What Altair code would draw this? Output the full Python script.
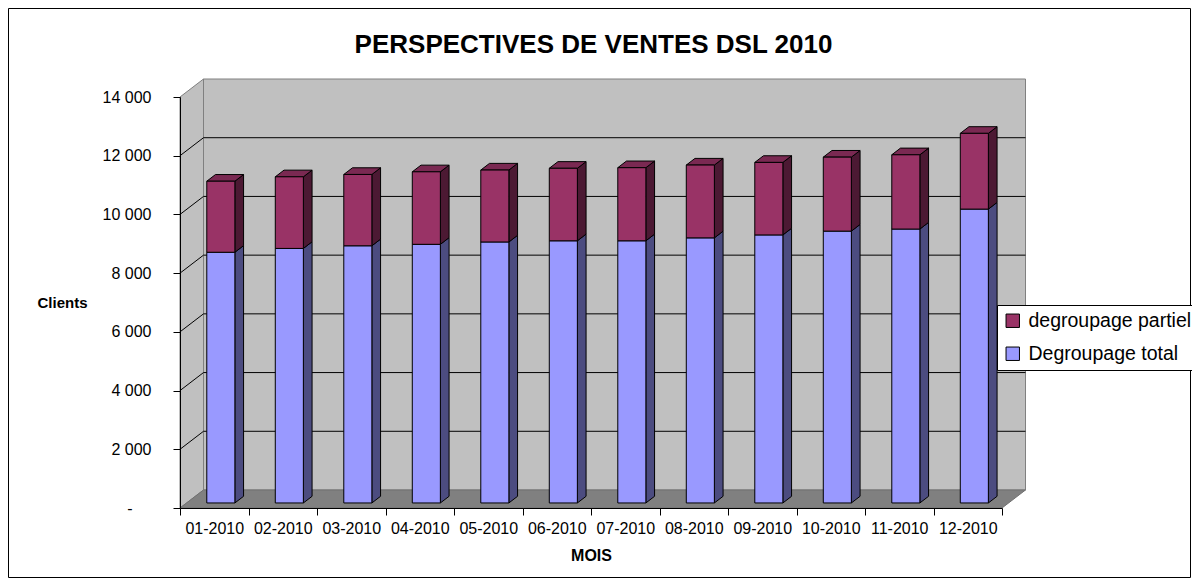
import json
import altair as alt
import pandas as pd

# ---------------- data ----------------
months = ["01-2010", "02-2010", "03-2010", "04-2010", "05-2010", "06-2010",
          "07-2010", "08-2010", "09-2010", "10-2010", "11-2010", "12-2010"]
degroupage_total = [8540, 8670, 8760, 8810, 8890, 8930, 8930, 9030, 9130, 9260, 9330, 10010]
degroupage_partiel = [2420, 2440, 2430, 2470, 2450, 2470, 2490, 2480, 2470, 2520, 2530, 2580]
series_names = ["degroupage partiel", "Degroupage total"]
y_ticks = [0, 2000, 4000, 6000, 8000, 10000, 12000, 14000]

# ---------------- geometry / style ----------------
W, H = 822, 411
YMAX = 14000
NB = len(months)
DEPTH_X, DEPTH_Y = 23.5, 18.0          # pixel depth of the 3-D box
XU, YU = NB / W, YMAX / H              # data units per pixel
DXu, DYu = DEPTH_X * XU, DEPTH_Y * YU
F0, F1 = 0.28, 0.65                    # depth fraction of bar front / back
BW = 0.41                              # bar width as fraction of band
dX, dY = (F1 - F0) * DXu, (F1 - F0) * DYu

C_BLUE, C_BLUE_SIDE = "#9999ff", "#4c4c80"
C_MAR, C_MAR_SIDE, C_MAR_TOP = "#993366", "#4c1933", "#7a2952"
FONT = "Liberation Sans"

# ---------------- derived tables ----------------
front, side, top = [], [], []
for i, m in enumerate(months):
    segs = [("Degroupage total", 0, degroupage_total[i]),
            ("degroupage partiel", degroupage_total[i], degroupage_total[i] + degroupage_partiel[i])]
    cx = i + 0.5
    xl = cx - BW / 2 + F0 * DXu
    xr = cx + BW / 2 + F0 * DXu
    for name, b, t in segs:
        yb, yt = b + F0 * DYu, t + F0 * DYu
        front.append({"month": m, "series": name, "x": xl, "x2": xr, "y": yb, "y2": yt})
        sid = f"{m}-{name}"
        side.append({"id": sid, "series": name, "x": xr, "y": yt, "y2": yb})
        side.append({"id": sid, "series": name, "x": xr + dX, "y": yt + dY, "y2": yb + dY})
    t = segs[-1][2] + F0 * DYu
    top.append({"id": m, "y": t, "x": xl, "x2": xr})
    top.append({"id": m, "y": t + dY, "x": xl + dX, "x2": xr + dX})

front_df = pd.DataFrame(front)
side_df = pd.DataFrame(side)
top_df = pd.DataFrame(top)

backwall_df = pd.DataFrame([{"x": DXu, "x2": NB + DXu, "y": DYu, "y2": YMAX + DYu}])
leftwall_df = pd.DataFrame([{"x": 0, "y": 0, "y2": YMAX},
                            {"x": DXu, "y": DYu, "y2": YMAX + DYu}])
floor_df = pd.DataFrame([{"y": 0, "x": 0, "x2": NB},
                         {"y": DYu, "x": DXu, "x2": NB + DXu}])
grid_vals = [v for v in y_ticks if 0 < v < YMAX]
backgrid_df = pd.DataFrame([{"x": DXu, "x2": NB + DXu, "y": v + DYu} for v in grid_vals])
leftgrid_df = pd.DataFrame([{"x": 0, "x2": DXu, "y": v, "y2": v + DYu} for v in grid_vals])

xs = alt.Scale(domain=[0, NB], nice=False, zero=False)
ys = alt.Scale(domain=[0, YMAX], nice=False)

x_label_expr = f"datum.value < {NB} ? {json.dumps(months)}[datum.value] : ''"
y_label_expr = "datum.value == 0 ? '-' : replace(format(datum.value, ','), ',', ' ')"

x_axis = alt.Axis(
    values=list(range(NB + 1)), labelExpr=x_label_expr, labelOffset=W / NB / 2,
    labelAlign="center", labelFlush=False, labelOverlap=False, labelPadding=5,
    labelFont=FONT, labelFontSize=16, labelColor="black",
    tickSize=7, tickColor="black", domainColor="black", grid=False, zindex=1,
    title="MOIS", titleFont=FONT, titleFontSize=16, titleFontWeight="bold",
    titleColor="black", titleY=47.7, titleBaseline="middle")

y_axis = alt.Axis(
    values=y_ticks, labelExpr=y_label_expr,
    labelPadding={"condition": {"test": "datum.value == 0", "value": 41}, "value": 22},
    labelFont=FONT, labelFontSize=16, labelColor="black",
    tickSize=7, tickColor="black", domainColor="black", grid=False, zindex=1,
    title="Clients", titleFont=FONT, titleFontSize=15, titleFontWeight="bold",
    titleColor="black", titleAngle=0, titleX=-118, titleY=205,
    titleAlign="center", titleBaseline="middle")


def X(**kw):
    return alt.X("x:Q", scale=xs, axis=x_axis, **kw)


def Y(**kw):
    return alt.Y("y:Q", scale=ys, axis=y_axis, **kw)


# ---------------- layers ----------------
border = alt.Chart(pd.DataFrame([{"k": 1}])).mark_rect(
    fill="white", stroke="black", strokeWidth=1
).encode(x=alt.value(-171.5), x2=alt.value(1010.5), y=alt.value(-88.5), y2=alt.value(480.5))

backwall = alt.Chart(backwall_df).mark_rect(fill="#c0c0c0", stroke="#808080", strokeWidth=1).encode(
    x=X(), x2="x2", y=Y(), y2="y2")

leftwall = alt.Chart(leftwall_df).mark_area(fill="#c0c0c0", stroke="#808080", strokeWidth=1,
                                            orient="vertical").encode(
    x=X(), y=Y(stack=False), y2="y2")

floor = alt.Chart(floor_df).mark_area(fill="#808080", stroke="#707070", strokeWidth=1,
                                      orient="horizontal").encode(
    y=Y(), x=X(stack=False), x2="x2")

backgrid = alt.Chart(backgrid_df).mark_rule(color="black", strokeWidth=1).encode(
    x=X(), x2="x2", y=Y())

leftgrid = alt.Chart(leftgrid_df).mark_rule(color="black", strokeWidth=1).encode(
    x=X(), x2="x2", y=Y(), y2="y2")


def side_layer(name, col):
    return alt.Chart(side_df).transform_filter(alt.datum.series == name).mark_area(
        fill=col, stroke="black", strokeWidth=1, orient="vertical"
    ).encode(x=X(), y=Y(stack=False), y2="y2", detail="id:N")


side_blue = side_layer("Degroupage total", C_BLUE_SIDE)
side_mar = side_layer("degroupage partiel", C_MAR_SIDE)

tops = alt.Chart(top_df).mark_area(fill=C_MAR_TOP, stroke="black", strokeWidth=1,
                                   orient="horizontal").encode(
    y=Y(), x=X(stack=False), x2="x2", detail="id:N")

legend = alt.Legend(
    orient="none", legendX=817, legendY=208, title=None, direction="vertical",
    fillColor="white", strokeColor="black", padding=6, rowPadding=12,
    symbolType="square", symbolSize=180, symbolStrokeColor="black", symbolStrokeWidth=1,
    labelFont=FONT, labelFontSize=19.5, labelColor="black", labelOffset=6, labelLimit=400)

fronts = alt.Chart(front_df).mark_rect(stroke="black", strokeWidth=1).encode(
    x=X(), x2="x2", y=Y(), y2="y2",
    color=alt.Color("series:N", scale=alt.Scale(domain=series_names, range=[C_MAR, C_BLUE]),
                    legend=legend))

chart = alt.layer(
    border, backwall, leftwall, floor, backgrid, leftgrid,
    side_blue, side_mar, tops, fronts
).properties(
    width=W, height=H,
    padding={"left": 172, "top": 89, "right": 190, "bottom": 71},
    autosize=alt.AutoSizeParams(type="none"),
    title=alt.TitleParams(
        text="PERSPECTIVES DE VENTES DSL 2010", font=FONT, fontSize=26, fontWeight="bold",
        color="black", anchor="middle", frame="group", dx=2.5, offset=-71,
        baseline="alphabetic"),
    background="white",
).configure_view(strokeWidth=0)

chart.save("out.html", embed_options={"renderer": "svg", "actions": False})
